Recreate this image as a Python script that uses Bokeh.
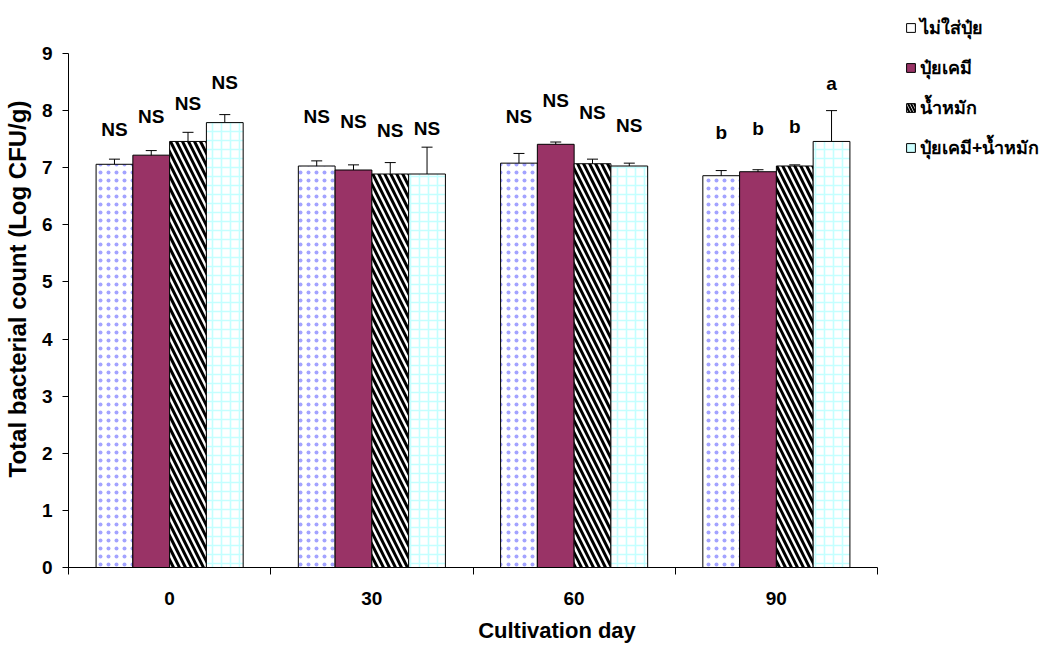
from bokeh.plotting import figure
from bokeh.models import (ColumnDataSource, Range1d, LinearAxis, FixedTicker, Whisker,
                          TeeHead, Legend, LegendItem)
from bokeh.core.properties import value
from bokeh.embed import file_html
from bokeh.resources import INLINE

# ---- data ----
days = ["0", "30", "60", "90"]
series = ["ไม่ใส่ปุ๋ย", "ปุ๋ยเคมี", "น้ำหมัก", "ปุ๋ยเคมี+น้ำหมัก"]
no_fert = [7.06, 7.03, 7.08, 6.86]
chem_fert = [7.22, 6.96, 7.41, 6.93]
bio_ferm = [7.46, 6.89, 7.07, 7.03]
chem_bio = [7.79, 6.89, 7.03, 7.46]
err_no_fert = [0.09, 0.09, 0.17, 0.09]
err_chem_fert = [0.08, 0.09, 0.04, 0.035]
err_bio_ferm = [0.16, 0.20, 0.08, 0.02]
err_chem_bio = [0.14, 0.47, 0.05, 0.54]
sig_no_fert = ["NS", "NS", "NS", "b"]
sig_chem_fert = ["NS", "NS", "NS", "b"]
sig_bio_ferm = ["NS", "NS", "NS", "b"]
sig_chem_bio = ["NS", "NS", "NS", "a"]
sig_y_no_fert = [7.67, 7.90, 7.89, 7.61]
sig_y_chem_fert = [7.90, 7.81, 8.18, 7.68]
sig_y_bio_ferm = [8.12, 7.65, 7.97, 7.72]
sig_y_chem_bio = [8.50, 7.68, 7.74, 8.48]
y_ticks = [0, 1, 2, 3, 4, 5, 6, 7, 8, 9]
y_max = 9

means = [no_fert, chem_fert, bio_ferm, chem_bio]
errs = [err_no_fert, err_chem_fert, err_bio_ferm, err_chem_bio]
sigs = [sig_no_fert, sig_chem_fert, sig_bio_ferm, sig_chem_bio]
sig_ys = [sig_y_no_fert, sig_y_chem_fert, sig_y_bio_ferm, sig_y_chem_bio]

FONT = "Liberation Sans"
W, H = 1045, 645
L, R, T, B = 68, 0, 10, 78
FW, FH = W - L - R, H - T - B
AXIS_W = 809      # pixel length of the category axis
AXIS_H = 514      # pixel height of the 0..9 value axis

n_cat = len(days)
p = figure(width=W, height=H, output_backend="svg", toolbar_location=None,
           x_range=Range1d(0, n_cat * FW / AXIS_W),
           y_range=Range1d(0, y_max * FH / AXIS_H),
           min_border_left=L, min_border_right=R, min_border_top=T, min_border_bottom=B,
           x_axis_type=None, y_axis_type=None)
p.grid.visible = False
p.outline_line_color = None
p.background_fill_color = "white"
p.border_fill_color = "white"

styles = [
    dict(fill_color="white", hatch_pattern="dot", hatch_color="#a3a3ff", hatch_scale=8, hatch_weight=0.8),
    dict(fill_color="#993366"),
    dict(fill_color="white", hatch_pattern="left_diagonal_line", hatch_color="black", hatch_scale=12, hatch_weight=3),
    dict(fill_color="white", hatch_pattern="cross", hatch_color="#c4ffff", hatch_scale=9, hatch_weight=1.6),
]
legend_styles = [
    dict(fill_color="white"),
    dict(fill_color="#993366"),
    dict(fill_color="white", hatch_pattern="left_diagonal_line", hatch_color="black", hatch_scale=6, hatch_weight=2),
    dict(fill_color="#ccffff"),
]

n = len(series)
bw = 1.0 / (n + 1.5)
items = []
for j in range(n):
    xs = [i + 0.5 + (j - (n - 1) / 2) * bw for i in range(n_cat)]
    src = ColumnDataSource(dict(
        x=xs, top=means[j],
        lo=[m - e for m, e in zip(means[j], errs[j])],
        hi=[m + e for m, e in zip(means[j], errs[j])],
        sig=sigs[j], sy=sig_ys[j]))
    p.vbar(x="x", top="top", width=bw, bottom=0, source=src,
           line_color="black", line_width=1, **styles[j])
    p.add_layout(Whisker(base="x", lower="lo", upper="hi", source=src,
                         line_color="black", line_width=1,
                         upper_head=TeeHead(size=11, line_color="black", line_width=1),
                         lower_head=TeeHead(size=11, line_color="black", line_width=1)))
    p.text(x="x", y="sy", text="sig", source=src, text_align="center",
           text_baseline="middle", text_font=value(FONT), text_font_style="bold",
           text_font_size="19px", text_color="black")
    lg = p.quad(left=[-10], right=[-9], bottom=[-10], top=[-9], line_color="black",
                line_width=1, **legend_styles[j])
    items.append(LegendItem(label=series[j], renderers=[lg]))

# y axis
ya = LinearAxis(ticker=FixedTicker(ticks=y_ticks), bounds=(0, y_max),
                axis_label="Total bacterial count (Log CFU/g)")
ya.major_tick_out = 6
ya.major_tick_in = 0
ya.minor_tick_out = 0
ya.minor_tick_in = 0
ya.major_label_text_font = FONT
ya.major_label_text_font_style = "bold"
ya.major_label_text_font_size = "19px"
ya.major_label_text_color = "black"
ya.major_label_standoff = 10
ya.axis_label_text_font = FONT
ya.axis_label_text_font_style = "bold"
ya.axis_label_text_font_size = "24px"
ya.axis_label_text_color = "black"
ya.axis_label_standoff = 8
ya.axis_line_color = "black"
ya.major_tick_line_color = "black"
p.add_layout(ya, "left")

# x axis: ticks at category boundaries
xa = LinearAxis(ticker=FixedTicker(ticks=list(range(n_cat + 1))), bounds=(0, n_cat))
xa.major_tick_out = 7
xa.major_tick_in = 0
xa.minor_tick_out = 0
xa.major_label_text_font_size = "0px"
xa.major_label_standoff = 0
xa.axis_line_color = "black"
xa.major_tick_line_color = "black"
p.add_layout(xa, "below")

# x axis labels at category centres
xl = LinearAxis(ticker=FixedTicker(ticks=[i + 0.5 for i in range(n_cat)]),
                axis_label="Cultivation day")
xl.major_label_overrides = {i + 0.5: d for i, d in enumerate(days)}
xl.axis_line_color = None
xl.major_tick_line_color = None
xl.minor_tick_line_color = None
xl.major_tick_out = 0
xl.major_label_standoff = 17
xl.major_label_text_font = FONT
xl.major_label_text_font_style = "bold"
xl.major_label_text_font_size = "19px"
xl.major_label_text_color = "black"
xl.axis_label_text_font = FONT
xl.axis_label_text_font_style = "bold"
xl.axis_label_text_font_size = "22px"
xl.axis_label_text_color = "black"
xl.axis_label_standoff = 10
p.add_layout(xl, "below")

legend = Legend(items=items, location=(837, 405), orientation="vertical",
                glyph_width=11, glyph_height=11, label_height=20, spacing=11,
                label_standoff=4, padding=0, margin=0, border_line_color=None,
                background_fill_alpha=0,
                label_text_font="Noto Sans", label_text_font_style="bold",
                label_text_font_size="18px", label_text_color="black")
p.add_layout(legend, "center")

open("out.html", "w").write(file_html(p, INLINE))
